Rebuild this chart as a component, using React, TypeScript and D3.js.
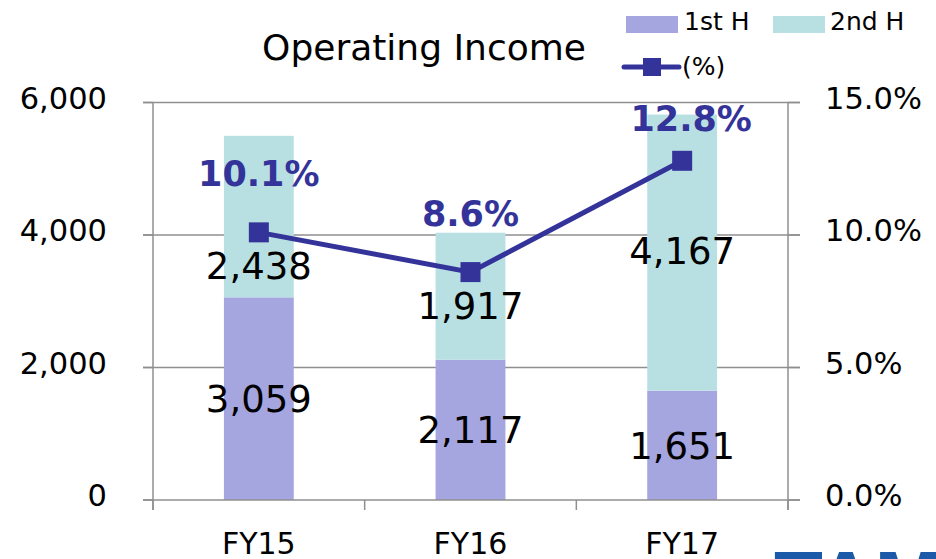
import React from "react";
import * as d3 from "d3";

const categories = ["FY15", "FY16", "FY17"];
const firstHalf = [3059, 2117, 1651];
const secondHalf = [2438, 1917, 4167];
const marginPct = [10.1, 8.6, 12.8];
const leftTicks = [0, 2000, 4000, 6000];
const rightTicks = [0, 5, 10, 15];
const title = "Operating Income";
const legendLabels = ["1st H", "2nd H", "(%)"];

const W = 936;
const H = 559;
const C1 = "#a5a5e0";
const C2 = "#b8e0e3";
const LINE = "#333399";
const GRID = "#8f8f8f";
const FONT = "'DejaVu Sans', Verdana, sans-serif";

// layout-only adjustments for label placement (px)
const secondLabelDy = [49, 9, -2];
const pctLabelDy = [-59, -59, -42];
const pctLabelDx = [0, 0, 9];

export default function App() {
  const x = d3
    .scaleBand<string>()
    .domain(categories)
    .range([153, 788])
    .paddingInner(0.67)
    .paddingOuter(0.335);
  const yL = d3.scaleLinear().domain([0, 6000]).range([500, 102.5]);
  const yR = d3.scaleLinear().domain([0, 15]).range([500, 102.5]);
  const bw = x.bandwidth();
  const step = x.step();
  const cx = (c: string) => (x(c) as number) + bw / 2;

  const line = d3
    .line<number>()
    .x((_, i) => cx(categories[i]))
    .y((d) => yR(d));

  const dataFs = 37;
  const tickFs = 30.5;
  const boundaries = d3.range(categories.length + 1).map((i) => 153 + i * step);

  return (
    <svg
      width={W}
      height={H}
      style={{ position: "absolute", left: 0, top: 0, background: "#fff" }}
      fontFamily={FONT}
    >
      <rect width={W} height={H} fill="#fff" />
      {/* gridlines */}
      {leftTicks
        .filter((t) => t > 0)
        .map((t) => (
          <line key={"g" + t} x1={143} x2={800} y1={yL(t)} y2={yL(t)} stroke={GRID} strokeWidth={1.5} />
        ))}
      {/* bars */}
      {categories.map((c, i) => {
        const x0 = x(c) as number;
        return (
          <g key={"b" + c}>
            <rect x={x0} width={bw} y={yL(firstHalf[i])} height={yL(0) - yL(firstHalf[i])} fill={C1} />
            <rect
              x={x0}
              width={bw}
              y={yL(firstHalf[i] + secondHalf[i])}
              height={yL(firstHalf[i]) - yL(firstHalf[i] + secondHalf[i])}
              fill={C2}
            />
          </g>
        );
      })}
      {/* axes */}
      <line x1={153} x2={153} y1={102.5} y2={510} stroke={GRID} strokeWidth={1.5} />
      <line x1={788} x2={788} y1={102.5} y2={510} stroke={GRID} strokeWidth={1.5} />
      <line x1={143} x2={800} y1={500} y2={500} stroke={GRID} strokeWidth={1.5} />
      {leftTicks.map((t) => (
        <line key={"lt" + t} x1={143} x2={153} y1={yL(t)} y2={yL(t)} stroke={GRID} strokeWidth={1.5} />
      ))}
      {rightTicks.map((t) => (
        <line key={"rt" + t} x1={788} x2={800} y1={yR(t)} y2={yR(t)} stroke={GRID} strokeWidth={1.5} />
      ))}
      {boundaries.map((b, i) => (
        <line key={"bt" + i} x1={b} x2={b} y1={500} y2={510} stroke={GRID} strokeWidth={1.5} />
      ))}
      {/* tick labels */}
      {leftTicks.map((t) => (
        <text key={"ll" + t} x={107} y={yL(t) + 6} textAnchor="end" fontSize={tickFs} fill="#000">
          {d3.format(",")(t)}
        </text>
      ))}
      {rightTicks.map((t) => (
        <text key={"rl" + t} x={825} y={yR(t) + 6} textAnchor="start" fontSize={tickFs} fill="#000">
          {d3.format(".1f")(t) + "%"}
        </text>
      ))}
      {categories.map((c) => (
        <text key={"cl" + c} x={cx(c)} y={554} textAnchor="middle" fontSize={30} fill="#000">
          {c}
        </text>
      ))}
      {/* data labels */}
      {categories.map((c, i) => {
        const m1 = (yL(0) + yL(firstHalf[i])) / 2;
        const m2 = (yL(firstHalf[i]) + yL(firstHalf[i] + secondHalf[i])) / 2 + secondLabelDy[i];
        return (
          <g key={"dl" + c}>
            <text x={cx(c)} y={m1 + dataFs * 0.36} textAnchor="middle" fontSize={dataFs} fill="#000">
              {d3.format(",")(firstHalf[i])}
            </text>
            <text x={cx(c)} y={m2 + dataFs * 0.36} textAnchor="middle" fontSize={dataFs} fill="#000">
              {d3.format(",")(secondHalf[i])}
            </text>
          </g>
        );
      })}
      {/* line */}
      <path d={line(marginPct) || ""} fill="none" stroke={LINE} strokeWidth={5} />
      {marginPct.map((p, i) => (
        <rect key={"m" + i} x={cx(categories[i]) - 10} y={yR(p) - 10} width={20} height={20} fill={LINE} />
      ))}
      {marginPct.map((p, i) => (
        <text
          key={"pl" + i}
          x={cx(categories[i]) + pctLabelDx[i]}
          y={yR(p) + pctLabelDy[i] + 35 * 0.36}
          textAnchor="middle"
          fontSize={35}
          fontWeight="bold"
          fill={LINE}
        >
          {d3.format(".1f")(p) + "%"}
        </text>
      ))}
      {/* title */}
      <text x={424} y={60} textAnchor="middle" fontSize={36} fill="#000">
        {title}
      </text>
      {/* legend */}
      <rect x={626} y={16} width={52} height={17} fill={C1} />
      <text x={684} y={30} fontSize={25} fill="#000">
        {legendLabels[0]}
      </text>
      <rect x={773} y={16} width={52} height={17} fill={C2} />
      <text x={830} y={30} fontSize={25} fill="#000">
        {legendLabels[1]}
      </text>
      <line x1={624} x2={679} y1={67} y2={67} stroke={LINE} strokeWidth={5} strokeLinecap="round" />
      <rect x={643} y={58} width={18} height={18} fill={LINE} />
      <text x={682} y={75} fontSize={25} fill="#000">
        {legendLabels[2]}
      </text>
      {/* corner logo (cropped) */}
      <text x={774} y={607} fontSize={80} fontWeight="bold" fill="#1a5aa8" fontFamily="'Liberation Sans', Arial, sans-serif">
        TAM
      </text>
    </svg>
  );
}
